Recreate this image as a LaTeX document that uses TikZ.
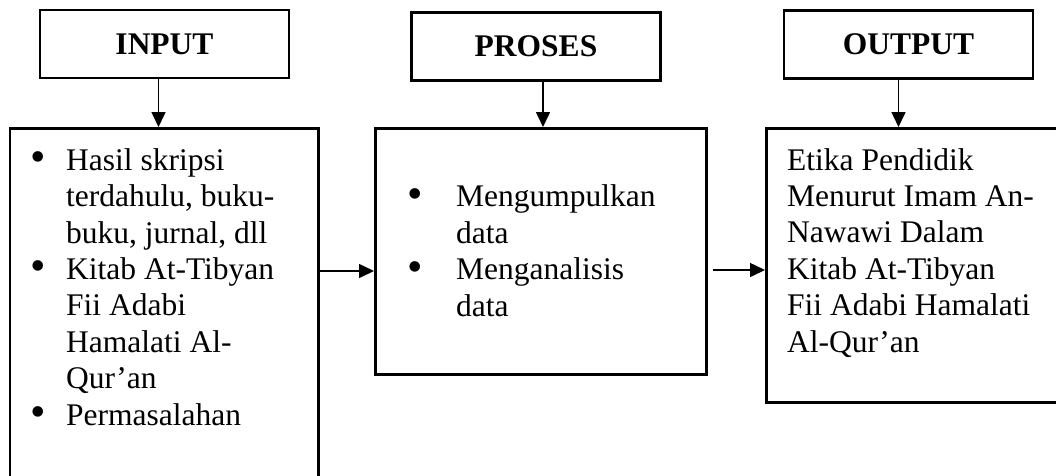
\documentclass[tikz,border=0pt]{standalone}
\usepackage{fontspec}
\setmainfont{Liberation Serif}
\usetikzlibrary{arrows.meta,positioning}

\tikzset{
		kotak/.style={draw, line width=2.6pt, inner sep=0pt},
		judul/.style={kotak, minimum width=249pt, minimum height=68pt,
			font=\bfseries\fontsize{31.5}{36}\selectfont},
		isi/.style={inner sep=0pt, anchor=base west, align=left,
			font=\fontsize{31.5}{36.4}\selectfont},
		panah/.style={-{Triangle[width=14pt,length=15pt]}, line width=1.5pt}
	}
\newcommand{\titik}[1]{\makebox[#1][l]{\raisebox{-1.5pt}{\scalebox{1.4}{\textbullet}}}}

\begin{document}
\begin{tikzpicture}[x=1pt, y=1pt]
				\useasboundingbox (0,0) rectangle (1056,-475);
				\clip (0,0) rectangle (1056,-475);
				% kotak judul
				\node[judul] (input) at (164.5,-44) {INPUT};
				\node[judul] (proses) at (536,-46.5) {PROSES};
				\node[judul] (output) at (908.5,-44.5) {OUTPUT};
				% kotak isi
				\node[kotak, anchor=north west, minimum width=308.5pt, minimum height=380pt] (kiri) at (8.5,-127) {};
				\node[kotak, anchor=north west, minimum width=331pt, minimum height=246pt] (tengah) at (374,-127) {};
				\node[kotak, anchor=north west, minimum width=320pt, minimum height=274pt] (kanan) at (765,-127) {};
				% teks (anchor base = baris terakhir)
				\node[isi] (teks kiri) at (30,-425) {\titik{36pt}Hasil skripsi\\
					\hspace*{36pt}terdahulu, buku-\\
					\hspace*{36pt}buku, jurnal, dll\\
					\titik{36pt}Kitab At-Tibyan\\
					\hspace*{36pt}Fii Adabi\\
					\hspace*{36pt}Hamalati Al-\\
					\hspace*{36pt}Qur’an\\
					\titik{36pt}Permasalahan};
				\node[isi] (teks tengah) at (407,-316) {\titik{49pt}Mengumpulkan\\
					\hspace*{49pt}data\\
					\titik{49pt}Menganalisis\\
					\hspace*{49pt}data};
				\node[isi] (teks kanan) at (787,-352) {Etika Pendidik\\
					Menurut Imam An-\\
					Nawawi Dalam\\
					Kitab At-Tibyan\\
					Fii Adabi Hamalati\\
					Al-Qur’an};
				% panah
				\coordinate (a1) at (kiri.north east |- 0,-271);
				\coordinate (b1) at (tengah.north west |- 0,-271);
				\coordinate (a2) at ([xshift=5pt]tengah.north east |- 0,-270);
				\coordinate (b2) at (kanan.north west |- 0,-270);
				\draw[panah] ([xshift=-6pt]input.south) -- ([xshift=-6pt]input.south |- kiri.north);
				\draw[panah] ([xshift=7pt]proses.south) -- ([xshift=7pt]proses.south |- tengah.north);
				\draw[panah] ([xshift=-10pt]output.south) -- ([xshift=-10pt]output.south |- kanan.north);
				\draw[panah] (a1) -- (b1);
				\draw[panah] (a2) -- (b2);
			\end{tikzpicture}
\end{document}
